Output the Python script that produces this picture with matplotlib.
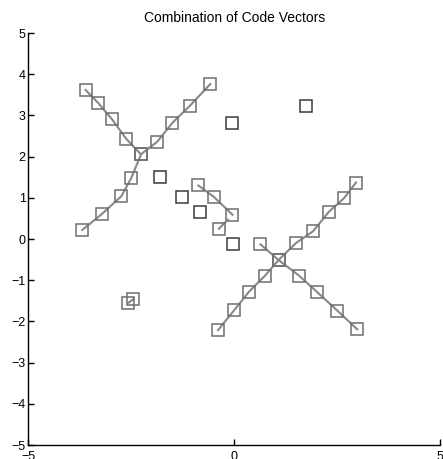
import numpy as np
import matplotlib.pyplot as plt

# code vector chains (each chain drawn as a line with square markers)
left_desc_x = [-3.61, -3.30, -2.97, -2.62, -2.27]
left_desc_y = [3.62, 3.30, 2.91, 2.43, 2.06]

left_asc_x = [-3.69, -3.21, -2.74, -2.50, -2.26, -1.87, -1.50, -1.08, -0.58]
left_asc_y = [0.22, 0.61, 1.04, 1.48, 2.06, 2.36, 2.82, 3.23, 3.76]

mid_x = [-0.87, -0.50, -0.04]
mid_y = [1.30, 1.03, 0.59]

stub_x = [-0.37, -0.15]
stub_y = [0.25, 0.47]

pair_x = [-2.57, -2.45]
pair_y = [-1.55, -1.46]

right_asc_x = [-0.39, 0.00, 0.36, 0.74, 1.08, 1.50, 1.92, 2.30, 2.67, 2.96]
right_asc_y = [-2.21, -1.73, -1.28, -0.90, -0.51, -0.10, 0.19, 0.66, 0.99, 1.37]

right_desc_x = [0.64, 1.08, 1.58, 2.02, 2.51, 2.99]
right_desc_y = [-0.13, -0.51, -0.89, -1.29, -1.74, -2.19]

# single code vectors
single_x = [-1.80, -1.27, -0.83, -0.03, -0.05, 1.74]
single_y = [1.51, 1.01, 0.66, -0.13, 2.82, 3.23]

plt.rcParams['font.family'] = ['Liberation Sans', 'DejaVu Sans']

fig = plt.figure(figsize=(4.43, 4.59), dpi=100)
ax = fig.add_axes([0.064, 0.0305, 0.929, 0.8975])

line_kw = dict(color='#888888', lw=1.5, marker='s', ms=9.2, mfc='none',
               mec='#6e6e6e', mew=1.1)

chains = [(left_desc_x, left_desc_y), (left_asc_x, left_asc_y),
          (mid_x, mid_y), (pair_x, pair_y),
          (right_asc_x, right_asc_y), (right_desc_x, right_desc_y)]
for cx, cy in chains:
    ax.plot(cx, cy, **line_kw)
ax.plot(stub_x, stub_y, markevery=[0], **line_kw)

ax.plot(single_x, single_y, ls='none', marker='s', ms=9.2, mfc='none',
        mec='#3a3a3a', mew=1.1)

ax.set_xlim(-5, 5)
ax.set_ylim(-5, 5)
ax.set_xticks([-5, 0, 5])
ax.set_yticks(np.arange(-5, 6, 1))
ax.spines['top'].set_visible(False)
ax.spines['right'].set_visible(False)
for s in ['left', 'bottom']:
    ax.spines[s].set_linewidth(1.0)
ax.tick_params(direction='in', length=4, width=1.0, labelsize=9, pad=2)
ax.tick_params(axis='x', pad=4)
ax.set_title('Combination of Code Vectors', fontsize=10, pad=8)

fig.savefig('out.png', dpi=100)
